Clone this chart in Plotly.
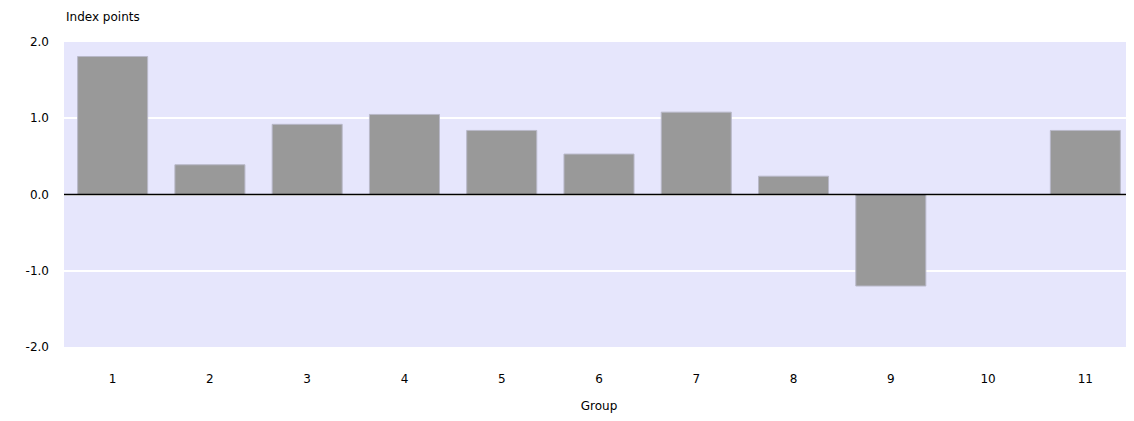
import plotly.graph_objects as go

groups = ["1", "2", "3", "4", "5", "6", "7", "8", "9", "10", "11"]
values = [1.81, 0.39, 0.92, 1.05, 0.84, 0.53, 1.08, 0.24, -1.20, 0.0, 0.84]
y_ticks = [-2, -1, 0, 1, 2]
y_tick_labels = ["-2.0", "-1.0", "0.0", "1.0", "2.0"]

fig = go.Figure()
fig.add_trace(go.Bar(
    x=groups, y=values,
    marker=dict(color="#999999", line=dict(color="#b8b8c8", width=1)),
    width=0.72,
))

font = dict(family="DejaVu Sans, Verdana, sans-serif", size=12, color="#000000")
fig.update_layout(
    width=1126, height=405,
    margin=dict(l=56, r=0, t=34, b=66),
    paper_bgcolor="#ffffff",
    plot_bgcolor="#E6E6FC",
    font=font,
    showlegend=False,
    xaxis=dict(
        type="category", showgrid=False, zeroline=False, showline=False,
        ticks="", tickfont=font, ticklabelstandoff=23,
        title=dict(text="Group", font=font, standoff=20),
    ),
    yaxis=dict(
        range=[-2, 2], tickvals=y_ticks, ticktext=y_tick_labels,
        showgrid=True, gridcolor="#ffffff", gridwidth=1.5,
        zeroline=False,
        showline=False, ticks="", tickfont=font, ticklabelstandoff=14,
    ),
    shapes=[dict(
        type="line", xref="paper", yref="y", x0=0, x1=1, y0=0, y1=0,
        line=dict(color="#000000", width=1.5), layer="above",
    )],
    annotations=[dict(
        text="Index points", xref="paper", yref="paper", x=0, y=1,
        xanchor="left", yanchor="bottom", yshift=16, showarrow=False, font=font,
    )],
)

fig.write_html("out.html")
